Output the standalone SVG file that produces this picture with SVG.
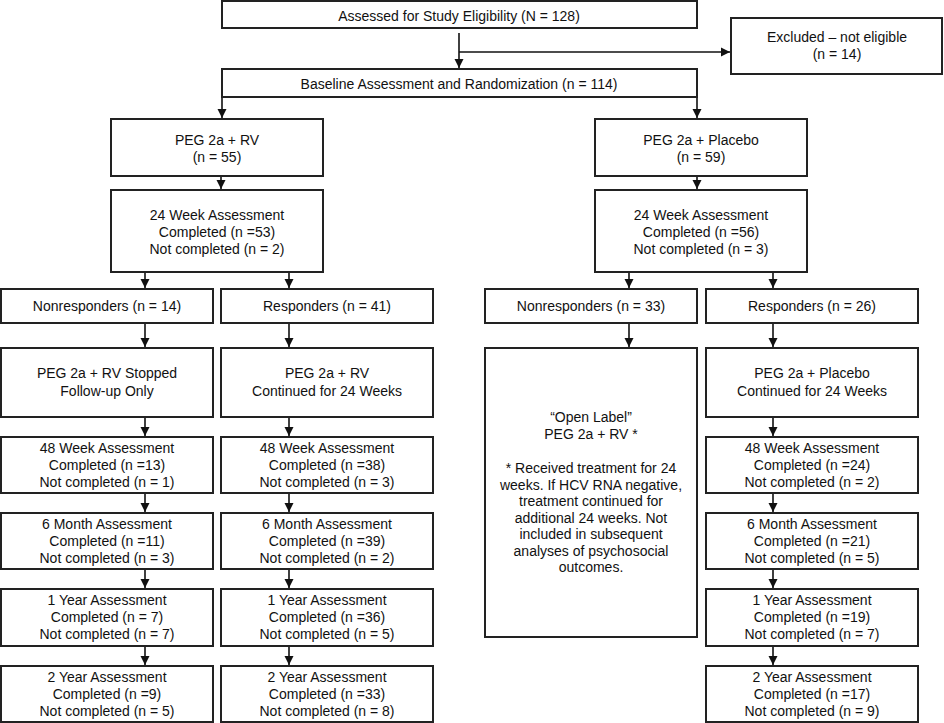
<svg xmlns="http://www.w3.org/2000/svg" width="944" height="723" viewBox="0 0 944 723">
<defs>
<marker id="ah" markerUnits="userSpaceOnUse" markerWidth="10" markerHeight="10" refX="9" refY="5" orient="auto">
<path d="M0,0.5 L9,5 L0,9.5 z" fill="#111"/>
</marker>
<style>
rect{fill:#fff;stroke:#222;stroke-width:2}
text{font-family:"Liberation Sans",Arial,sans-serif;font-size:14px;fill:#111;text-anchor:middle}
.c line{stroke:#111;stroke-width:1.6;fill:none}
.c .a{marker-end:url(#ah)}
</style>
</defs>
<rect x="0" y="0" width="944" height="723" style="fill:#fff;stroke:none"/>

<g id="assessed"><rect x="222" y="1" width="475" height="27"/><text x="459" y="21">Assessed for Study Eligibility (N = 128)</text></g>
<g id="excluded"><rect x="731" y="18" width="211" height="56"/><text x="837" y="42">Excluded – not eligible</text><text x="837" y="59">(n = 14)</text></g>
<g id="baseline"><rect x="222" y="69" width="475" height="28"/><text x="459" y="89">Baseline Assessment and Randomization (n = 114)</text></g>

<g id="peg-rv"><rect x="111" y="119" width="212" height="57"/><text x="217" y="145">PEG 2a + RV</text><text x="217" y="162">(n = 55)</text></g>
<g id="peg-pl"><rect x="595" y="119" width="212" height="57"/><text x="701" y="145">PEG 2a + Placebo</text><text x="701" y="162">(n = 59)</text></g>

<g id="wk24-rv"><rect x="111" y="190" width="212" height="82"/><text x="217" y="220">24 Week Assessment</text><text x="217" y="237">Completed (n =53)</text><text x="217" y="254">Not completed (n = 2)</text></g>
<g id="wk24-pl"><rect x="595" y="190" width="212" height="82"/><text x="701" y="220">24 Week Assessment</text><text x="701" y="237">Completed (n =56)</text><text x="701" y="254">Not completed (n = 3)</text></g>

<g id="nr-rv"><rect x="1" y="289" width="212" height="34"/><text x="107" y="311">Nonresponders (n = 14)</text></g>
<g id="r-rv"><rect x="221" y="289" width="212" height="34"/><text x="327" y="311">Responders (n = 41)</text></g>
<g id="nr-pl"><rect x="485" y="289" width="212" height="34"/><text x="591" y="311">Nonresponders (n = 33)</text></g>
<g id="r-pl"><rect x="706" y="289" width="212" height="34"/><text x="812" y="311">Responders (n = 26)</text></g>

<g id="stopped"><rect x="1" y="348" width="212" height="69"/><text x="107" y="378">PEG 2a + RV Stopped</text><text x="107" y="396">Follow-up Only</text></g>
<g id="cont-rv"><rect x="221" y="348" width="212" height="69"/><text x="327" y="378">PEG 2a + RV</text><text x="327" y="396">Continued for 24 Weeks</text></g>
<g id="open"><rect x="485" y="348" width="212" height="289"/>
<text x="591" y="422">“Open Label”</text><text x="591" y="439">PEG 2a + RV *</text>
<text x="591" y="473">* Received treatment for 24</text><text x="591" y="490">weeks. If HCV RNA negative,</text><text x="591" y="506">treatment continued for</text><text x="591" y="523">additional 24 weeks. Not</text><text x="591" y="539">included in subsequent</text><text x="591" y="556">analyses of psychosocial</text><text x="591" y="572">outcomes.</text></g>
<g id="cont-pl"><rect x="706" y="348" width="212" height="69"/><text x="812" y="378">PEG 2a + Placebo</text><text x="812" y="396">Continued for 24 Weeks</text></g>

<g id="wk48-a"><rect x="1" y="437" width="212" height="56"/><text x="107" y="453">48 Week Assessment</text><text x="107" y="470">Completed (n =13)</text><text x="107" y="487">Not completed (n = 1)</text></g>
<g id="wk48-b"><rect x="221" y="437" width="212" height="56"/><text x="327" y="453">48 Week Assessment</text><text x="327" y="470">Completed (n =38)</text><text x="327" y="487">Not completed (n = 3)</text></g>
<g id="wk48-c"><rect x="706" y="437" width="212" height="56"/><text x="812" y="453">48 Week Assessment</text><text x="812" y="470">Completed (n =24)</text><text x="812" y="487">Not completed (n = 2)</text></g>

<g id="m6-a"><rect x="1" y="513" width="212" height="56"/><text x="107" y="529">6 Month Assessment</text><text x="107" y="546">Completed (n =11)</text><text x="107" y="563">Not completed (n = 3)</text></g>
<g id="m6-b"><rect x="221" y="513" width="212" height="56"/><text x="327" y="529">6 Month Assessment</text><text x="327" y="546">Completed (n =39)</text><text x="327" y="563">Not completed (n = 2)</text></g>
<g id="m6-c"><rect x="706" y="513" width="212" height="56"/><text x="812" y="529">6 Month Assessment</text><text x="812" y="546">Completed (n =21)</text><text x="812" y="563">Not completed (n = 5)</text></g>

<g id="y1-a"><rect x="1" y="589" width="212" height="57"/><text x="107" y="605">1 Year Assessment</text><text x="107" y="622">Completed (n = 7)</text><text x="107" y="639">Not completed (n = 7)</text></g>
<g id="y1-b"><rect x="221" y="589" width="212" height="57"/><text x="327" y="605">1 Year Assessment</text><text x="327" y="622">Completed (n =36)</text><text x="327" y="639">Not completed (n = 5)</text></g>
<g id="y1-c"><rect x="706" y="589" width="212" height="57"/><text x="812" y="605">1 Year Assessment</text><text x="812" y="622">Completed (n =19)</text><text x="812" y="639">Not completed (n = 7)</text></g>

<g id="y2-a"><rect x="1" y="666" width="212" height="56"/><text x="107" y="682">2 Year Assessment</text><text x="107" y="699">Completed (n =9)</text><text x="107" y="716">Not completed (n = 5)</text></g>
<g id="y2-b"><rect x="221" y="666" width="212" height="56"/><text x="327" y="682">2 Year Assessment</text><text x="327" y="699">Completed (n =33)</text><text x="327" y="716">Not completed (n = 8)</text></g>
<g id="y2-c"><rect x="706" y="666" width="212" height="56"/><text x="812" y="682">2 Year Assessment</text><text x="812" y="699">Completed (n =17)</text><text x="812" y="716">Not completed (n = 9)</text></g>

<g class="c" id="connectors">
<line class="a" x1="459" y1="33" x2="459" y2="68"/>
<line class="a" x1="459" y1="52" x2="730" y2="52"/>
<line class="a" x1="222" y1="98" x2="222" y2="118"/>
<line class="a" x1="697" y1="98" x2="697" y2="118"/>
<line class="a" x1="221" y1="177" x2="221" y2="189"/>
<line class="a" x1="697" y1="177" x2="697" y2="189"/>
<line class="a" x1="145" y1="273" x2="145" y2="288"/>
<line class="a" x1="289" y1="273" x2="289" y2="288"/>
<line class="a" x1="629" y1="273" x2="629" y2="288"/>
<line class="a" x1="773" y1="273" x2="773" y2="288"/>
<line class="a" x1="145" y1="324" x2="145" y2="347"/>
<line class="a" x1="289" y1="324" x2="289" y2="347"/>
<line class="a" x1="629" y1="324" x2="629" y2="347"/>
<line class="a" x1="773" y1="324" x2="773" y2="347"/>
<line class="a" x1="145" y1="418" x2="145" y2="436"/>
<line class="a" x1="289" y1="418" x2="289" y2="436"/>
<line class="a" x1="773" y1="418" x2="773" y2="436"/>
<line class="a" x1="145" y1="494" x2="145" y2="512"/>
<line class="a" x1="289" y1="494" x2="289" y2="512"/>
<line class="a" x1="773" y1="494" x2="773" y2="512"/>
<line class="a" x1="145" y1="570" x2="145" y2="588"/>
<line class="a" x1="289" y1="570" x2="289" y2="588"/>
<line class="a" x1="773" y1="570" x2="773" y2="588"/>
<line class="a" x1="145" y1="647" x2="145" y2="665"/>
<line class="a" x1="289" y1="647" x2="289" y2="665"/>
<line class="a" x1="773" y1="647" x2="773" y2="665"/>
</g>
</svg>
